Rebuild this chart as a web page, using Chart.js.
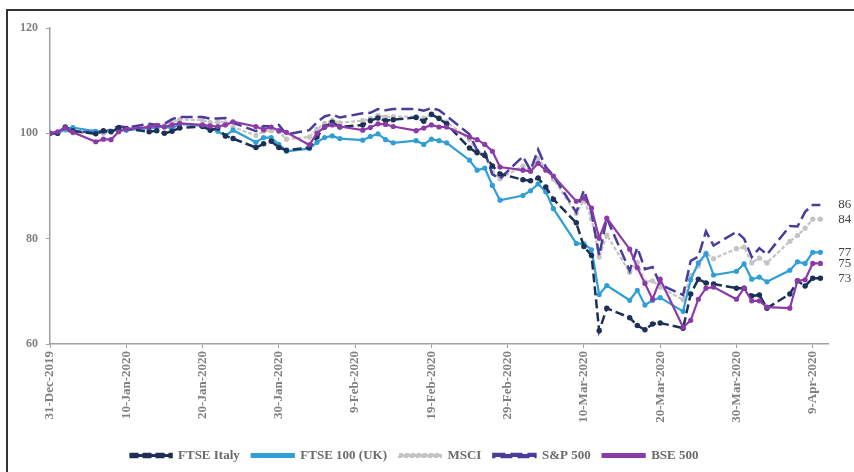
<!DOCTYPE html>
<html>
<head>
<meta charset="utf-8">
<script src="https://cdn.jsdelivr.net/npm/chart.js@4.4.0/dist/chart.umd.min.js"></script>
<style>
  html, body { margin: 0; padding: 0; background: #fff; }
  canvas { display: block; }
</style>
</head>
<body>
<canvas id="markets" width="854" height="472"></canvas>
<script>
// day offsets from 31-Dec-2019 (trading days)
const days = [0, 1, 2, 3, 6, 7, 8, 9, 10, 13, 14, 15, 16, 17, 20, 21, 22, 23, 24,
  27, 28, 29, 30, 31, 34, 35, 36, 37, 38, 41, 42, 43, 44, 45, 48, 49, 50, 51, 52,
  55, 56, 57, 58, 59, 62, 63, 64, 65, 66, 69, 70, 71, 72, 73, 76, 77, 78, 79, 80,
  83, 84, 85, 86, 87, 90, 91, 92, 93, 94, 97, 98, 99, 100, 101];

const tickLabels = ['31-Dec-2019', '10-Jan-2020', '20-Jan-2020', '30-Jan-2020', '9-Feb-2020',
  '19-Feb-2020', '29-Feb-2020', '10-Mar-2020', '20-Mar-2020', '30-Mar-2020', '9-Apr-2020'];

const ftseItaly = [100, 100, 101.2, 100.5, 99.9, 100.5, 100.3, 101, 100.9,
  100.3, 100.5, 100, 100.4, 101, 101.3, 100.6, 101, 99.5, 99,
  97.3, 98, 98.5, 97.3, 96.8, 97.3, 99.3, 101.2, 102.1, 101.2,
  101.6, 102.4, 102.9, 102.4, 102.6, 103, 102.3, 103.6, 102.8, 101.8,
  97.2, 96.3, 95.8, 93.8, 92.3, 91.2, 91, 91.5, 89.8, 87.5,
  83, 78.5, 76.8, 62.5, 66.8, 65, 63.5, 62.7, 63.8, 64,
  63, 69.5, 72.3, 71.6, 71.4, 70.6, 70.6, 69.1, 69.3, 66.8,
  69.5, 72, 71, 72.5, 72.5];

const ftse100 = [100, 100, 100.8, 101.1, 100.4, 100.4, 100.4, 100.7, 100.6,
  101, 101.1, 101.3, 100.9, 101.8, 101.4, 100.9, 100.4, 99.5, 100.6,
  98.3, 99.2, 99.2, 97.9, 96.6, 97.1, 98.3, 99.2, 99.5, 99,
  98.7, 99.4, 99.9, 98.8, 98.2, 98.6, 97.9, 98.9, 98.6, 98.2,
  94.9, 93, 93.4, 90.1, 87.3, 88.2, 89.1, 90.4, 88.9, 85.7,
  79.1, 79, 77.9, 69.4, 71.1, 68.3, 70.2, 67.4, 68.3, 68.8,
  66.2, 72.2, 75.4, 77.1, 73.1, 73.8, 75.2, 72.3, 72.7, 71.8,
  74, 75.6, 75.3, 77.4, 77.4];

const msci = [100, 100.1, 100.6, 100.1, 100.1, 100, 100.4, 101, 100.8,
  101.3, 101.3, 101.5, 102.2, 102.6, 102.5, 102.1, 102.2, 102, 101.2,
  99.6, 100.4, 100.5, 100.3, 98.9, 99.3, 100.8, 101.9, 102.5, 102,
  102.4, 102.8, 103.4, 103.1, 103.2, 103.2, 102.9, 103.5, 103, 102.2,
  98.8, 96.6, 96, 92.6, 91.4, 93.8, 92.8, 95.2, 93.3, 91.3,
  84.8, 87.3, 83.8, 76.5, 80.7, 73.6, 75.5, 71.8, 72, 70.8,
  68.4, 73, 74.8, 77.3, 76.2, 78.1, 78.4, 75.4, 76.3, 75.4,
  79.5, 80.6, 82, 83.7, 83.7];

const sp500 = [100, 100.2, 100.8, 100.1, 100.5, 100.2, 100.7, 101.4, 101.1,
  101.8, 101.6, 101.8, 102.7, 103.1, 103.1, 102.8, 102.8, 102.9, 102,
  100.4, 101.4, 101.3, 101.6, 99.8, 100.6, 102.1, 103.2, 103.6, 103,
  103.8, 103.9, 104.6, 104.4, 104.6, 104.6, 104.3, 104.8, 104.4, 103.3,
  99.8, 96.8, 96.5, 92.2, 91.4, 95.6, 93, 96.9, 93.6, 92,
  85, 89.2, 84.9, 76.8, 83.9, 73.9, 78.3, 74.2, 74.6, 71.3,
  69.3, 75.8, 76.6, 81.4, 78.7, 81.3, 80, 76.5, 78.2, 77,
  82.4, 82.3, 85.1, 86.4, 86.4];

const bse500 = [100, 100.3, 101.1, 100.2, 98.4, 98.9, 98.8, 100.3, 100.8,
  101.2, 101.5, 101.2, 101.6, 101.9, 101.6, 101.4, 101.3, 101.6, 102.2,
  101.3, 100.7, 101.2, 100.5, 100.2, 97.8, 100, 101.2, 101.6, 101.3,
  100.6, 101.1, 101.8, 101.7, 101.3, 100.5, 101, 101.6, 101.2, 101.2,
  99.3, 98.8, 97.9, 96.6, 93.6, 93, 92.8, 94.3, 93, 91.9,
  87.1, 87.7, 85.8, 80.1, 83.9, 78, 74.5, 71.5, 68.5, 72.3,
  63.2, 64.5, 68.5, 70.6, 70.8, 68.5, 70.6, 68.2, 68.2, 67,
  66.8, 72, 72.2, 75.3, 75.3];

function points(values) {
  return days.map(function (d, i) {
    return { x: d, y: values[i] };
  });
}

const serif = '"Liberation Serif", "Times New Roman", serif';

// frame round the chart and the closing values on the right
const chartFrame = {
  id: 'chartFrame',
  beforeDraw(chart) {
    const ctx = chart.ctx;
    ctx.save();
    ctx.fillStyle = '#ffffff';
    ctx.fillRect(0, 0, chart.width, chart.height);
    ctx.strokeStyle = '#333333';
    ctx.lineWidth = 2;
    ctx.beginPath();
    ctx.moveTo(7, chart.height);
    ctx.lineTo(7, 10);
    ctx.lineTo(chart.width, 10);
    ctx.stroke();
    ctx.restore();
  },
  afterDatasetsDraw(chart) {
    const ctx = chart.ctx;
    const xs = chart.scales.x;
    const ys = chart.scales.y;
    ctx.save();
    ctx.font = '13px ' + serif;
    ctx.fillStyle = '#404040';
    ctx.textBaseline = 'middle';
    chart.data.datasets.forEach(function (ds) {
      const last = ds.data[ds.data.length - 1];
      ctx.fillText(String(Math.round(last.y)), xs.getPixelForValue(last.x) + 18, ys.getPixelForValue(last.y));
    });
    ctx.restore();
  }
};

new Chart(
  document.getElementById('markets'),
  {
    type: 'line',
    plugins: [chartFrame],
    data: {
      datasets: [
        {
          label: 'FTSE Italy',
          data: points(ftseItaly),
          borderColor: '#1d3057',
          backgroundColor: '#1d3057',
          borderWidth: 2.5,
          borderDash: [9, 4],
          pointRadius: 1.5,
          order: 2
        },
        {
          label: 'FTSE 100 (UK)',
          data: points(ftse100),
          borderColor: '#2f9fd6',
          backgroundColor: '#2f9fd6',
          borderWidth: 2.2,
          pointRadius: 1.5,
          order: 3
        },
        {
          label: 'MSCI',
          data: points(msci),
          borderColor: '#c4c4c4',
          backgroundColor: '#c4c4c4',
          borderWidth: 2.2,
          borderDash: [4, 2],
          pointRadius: 1.5,
          order: 5
        },
        {
          label: 'S&P 500',
          data: points(sp500),
          borderColor: '#4a3c9c',
          backgroundColor: '#4a3c9c',
          borderWidth: 2.5,
          borderDash: [12, 5],
          pointRadius: 0,
          order: 4
        },
        {
          label: 'BSE 500',
          data: points(bse500),
          borderColor: '#8c3aa8',
          backgroundColor: '#8c3aa8',
          borderWidth: 2.2,
          pointRadius: 1.5,
          order: 1
        }
      ]
    },
    options: {
      responsive: false,
      animation: false,
      layout: {
        padding: { left: 0, right: 26, top: 28, bottom: 0 }
      },
      plugins: {
        legend: {
          position: 'bottom',
          labels: {
            boxWidth: 42,
            boxHeight: 3,
            padding: 12,
            color: '#6a6a6a',
            font: { family: serif, size: 13, weight: 'bold' },
            sort: function (a, b) { return a.datasetIndex - b.datasetIndex; }
          }
        },
        tooltip: { enabled: false }
      },
      scales: {
        x: {
          type: 'linear',
          min: 0,
          max: 102,
          afterFit: function (scale) { scale.height = 93; },
          grid: { drawOnChartArea: false, drawTicks: true, tickLength: 4, color: '#a0a0a0' },
          border: { display: true, color: '#a0a0a0', width: 1.5 },
          ticks: {
            stepSize: 10,
            includeBounds: false,
            autoSkip: false,
            maxRotation: 90,
            minRotation: 90,
            padding: 3,
            color: '#808080',
            font: { family: serif, size: 13, weight: 'bold' },
            callback: function (value) {
              return value % 10 === 0 ? tickLabels[value / 10] : '';
            }
          }
        },
        y: {
          min: 60,
          max: 120,
          afterFit: function (scale) { scale.width = 50; },
          grid: { drawOnChartArea: false, drawTicks: true, tickLength: 4, color: '#a0a0a0' },
          border: { display: true, color: '#a0a0a0', width: 1.5 },
          ticks: {
            stepSize: 20,
            padding: 8,
            color: '#808080',
            font: { family: serif, size: 12, weight: 'bold' }
          }
        }
      }
    }
  }
);
</script>
</body>
</html>
